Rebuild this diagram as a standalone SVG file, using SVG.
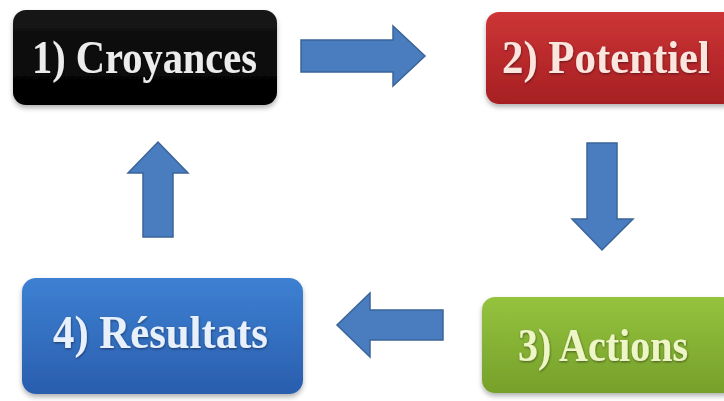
<svg xmlns="http://www.w3.org/2000/svg" width="724" height="401" viewBox="0 0 724 401">
  <defs>
    <linearGradient id="gBlack" x1="0" y1="0" x2="0" y2="1">
      <stop offset="0" stop-color="#161616"/>
      <stop offset="1" stop-color="#000000"/>
    </linearGradient>
    <linearGradient id="gRed" x1="0" y1="0" x2="0" y2="1">
      <stop offset="0" stop-color="#cd3535"/>
      <stop offset="1" stop-color="#a61f23"/>
    </linearGradient>
    <linearGradient id="gGreen" x1="0" y1="0" x2="0" y2="1">
      <stop offset="0" stop-color="#95c33e"/>
      <stop offset="1" stop-color="#76a02a"/>
    </linearGradient>
    <linearGradient id="gBlue" x1="0" y1="0" x2="0" y2="1">
      <stop offset="0" stop-color="#3d80d2"/>
      <stop offset="1" stop-color="#2a5eae"/>
    </linearGradient>
    <filter id="boxShadow" x="-10%" y="-10%" width="120%" height="130%">
      <feDropShadow dx="0" dy="3" stdDeviation="2.5" flood-color="#000" flood-opacity="0.3"/>
    </filter>
    <filter id="txtShadow" x="-5%" y="-20%" width="110%" height="140%">
      <feDropShadow dx="0.5" dy="1" stdDeviation="1" flood-color="#000" flood-opacity="0.45"/>
    </filter>
  </defs>
  <style>
    .lbl { font-family: "Liberation Serif", "Times New Roman", serif; font-weight: bold; font-size: 41px; text-anchor: middle; filter: url(#txtShadow); }
    .arrow { fill: #4a7dbf; stroke: #3a6499; stroke-width: 1.5; stroke-linejoin: miter; }
  </style>
  <rect width="724" height="401" fill="#ffffff"/>

  <g id="node1">
    <rect x="13" y="10" width="264" height="95" rx="13" fill="url(#gBlack)" filter="url(#boxShadow)"/>
    <text class="lbl" fill="#ececec" transform="translate(144.5,73) scale(1,1.12)" textLength="225" lengthAdjust="spacingAndGlyphs">1) Croyances</text>
  </g>

  <g id="node2">
    <rect x="486" y="12" width="250" height="92" rx="13" fill="url(#gRed)" filter="url(#boxShadow)"/>
    <text class="lbl" fill="#fbe6df" transform="translate(606,73) scale(1,1.12)" textLength="208" lengthAdjust="spacingAndGlyphs">2) Potentiel</text>
  </g>

  <g id="node3">
    <rect x="482" y="297" width="254" height="96" rx="13" fill="url(#gGreen)" filter="url(#boxShadow)"/>
    <text class="lbl" fill="#eef6c8" transform="translate(603,361) scale(1,1.12)" textLength="170" lengthAdjust="spacingAndGlyphs">3) Actions</text>
  </g>

  <g id="node4">
    <rect x="22" y="278" width="281" height="116" rx="14" fill="url(#gBlue)" filter="url(#boxShadow)"/>
    <text class="lbl" fill="#e8f0fb" transform="translate(160.5,348) scale(1,1.12)" textLength="215" lengthAdjust="spacingAndGlyphs">4) Résultats</text>
  </g>

  <g id="connectors">
    <polygon class="arrow" points="301,40 393,40 393,26 425,56 393,86 393,72 301,72"/>
    <polygon class="arrow" points="587,143 617,143 617,219 633,219 602,250 572,219 587,219"/>
    <polygon class="arrow" points="443,310 370,310 370,293 337,325 370,357 370,340 443,340"/>
    <polygon class="arrow" points="143,237 143,173 128,173 158,142 188,173 173,173 173,237"/>
  </g>
</svg>
